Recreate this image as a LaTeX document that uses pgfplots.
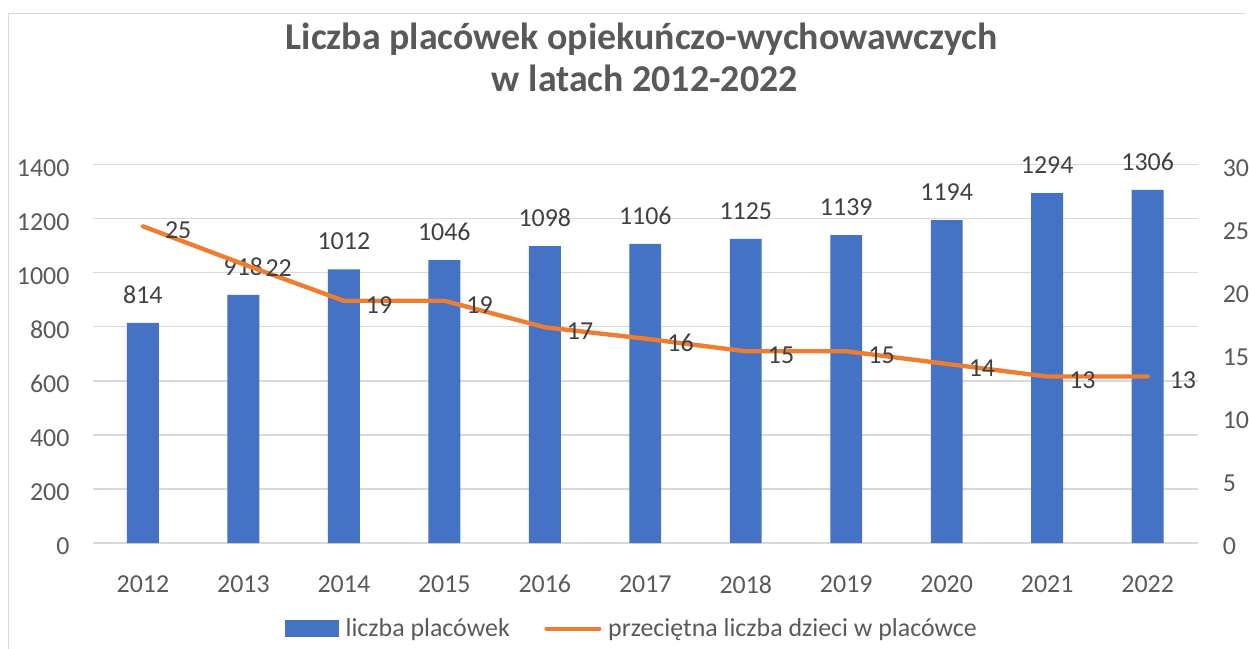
\documentclass[border=0pt]{standalone}
\usepackage{pgfplots}
\pgfplotsset{compat=1.18}
\usepackage{pgfplotstable}
\usepackage{fontspec}
\setmainfont{Carlito}
\definecolor{barblue}{HTML}{4472C4}
\definecolor{lineorange}{HTML}{ED7D31}
\definecolor{txt}{HTML}{595959}
\definecolor{lbl}{HTML}{404040}
\definecolor{gridc}{HTML}{D9D9D9}
\pgfplotsset{/pgf/number format/assume math mode=true, /pgf/number format/1000 sep={}}
\newcommand{\tf}{\fontsize{19.5}{23}\selectfont}

\pgfplotstableread{
x val
0 814
1 918
2 1012
3 1046
4 1098
5 1106
6 1125
7 1139
8 1194
9 1294
10 1306
}\bardata

\pgfplotstableread{
x val lab
0 25.1 25
1 22.1 22
2 19.2 19
3 19.2 19
4 17.1 17
5 16.2 16
6 15.2 15
7 15.2 15
8 14.2 14
9 13.2 13
10 13.2 13
}\linedata

\begin{document}
\begin{tikzpicture}
\begin{scope}[x=0.75pt,y=-0.75pt]
\useasboundingbox (0,0) rectangle (1249,651);
\draw[gridc, line width=1.1pt] (8.5,651) -- (8.5,13.5) -- (1249,13.5);
\node[font=\fontsize{28.5}{34}\selectfont\bfseries, text=txt, anchor=base, inner sep=0pt] at (644,50) {Liczba placówek opiekuńczo-wychowawczych};
\node[font=\fontsize{28.5}{34}\selectfont\bfseries, text=txt, anchor=base, inner sep=0pt] at (647,92) {w latach 2012-2022};
\end{scope}

\begin{axis}[
  at={(69.75pt,-123.75pt)}, anchor=north west,
  scale only axis, width=831.75pt, height=285pt,
  xmin=-0.5, xmax=10.5, ymin=0, ymax=1400,
  xtick={0,...,10},
  xticklabels={2012,2013,2014,2015,2016,2017,2018,2019,2020,2021,2022},
  ytick={0,200,...,1400},
  axis line style={draw=none},
  major tick length=0pt,
  ymajorgrids, major grid style={gridc, line width=1.1pt},
  ticklabel style={font=\tf, text=txt},
  xticklabel style={anchor=north, inner sep=0pt, yshift=-24pt},
  yticklabel style={anchor=east, inner sep=0pt, xshift=-17.25pt, yshift=-2.5pt},
  clip=false,
]
\addplot[ybar, bar width=24pt, fill=barblue, draw=none,
  nodes near coords,
  every node near coord/.append style={font=\tf, text=lbl, anchor=south, inner sep=0pt, yshift=14.5pt}]
  table[x=x, y=val]{\bardata};
\end{axis}

\begin{axis}[
  at={(69.75pt,-123.75pt)}, anchor=north west,
  scale only axis, width=831.75pt, height=285pt,
  xmin=-0.5, xmax=10.5, ymin=0, ymax=30,
  axis y line*=right, hide x axis,
  ytick={0,5,...,30},
  axis line style={draw=none},
  major tick length=0pt,
  ticklabel style={font=\tf, text=txt},
  yticklabel style={anchor=west, inner sep=0pt, xshift=18.5pt, yshift=-2.5pt},
  clip=false,
  legend style={at={(0.488,-0.226)}, anchor=center, draw=none, fill=none,
    legend columns=2, font=\tf, text=txt,
    /tikz/every odd column/.append style={column sep=3pt},
    /tikz/every even column/.append style={column sep=24pt}},
]
\addlegendimage{legend image code/.code={\fill[barblue] (0pt,-6pt) rectangle (40.5pt,6pt);}}
\addlegendentry{liczba placówek}
\addplot[lineorange, line width=3.3pt, line join=round, line cap=round, mark=none,
  nodes near coords, point meta=explicit,
  every node near coord/.append style={font=\tf, text=lbl, anchor=west, inner sep=0pt, xshift=15pt, yshift=-3pt},
  legend image code/.code={\draw[lineorange, line width=3.3pt, line cap=round] (1.5pt,0pt) -- (41.25pt,0pt);}]
  table[x=x, y=val, meta=lab]{\linedata};
\addlegendentry{przeciętna liczba dzieci w placówce}
\end{axis}
\end{tikzpicture}
\end{document}
